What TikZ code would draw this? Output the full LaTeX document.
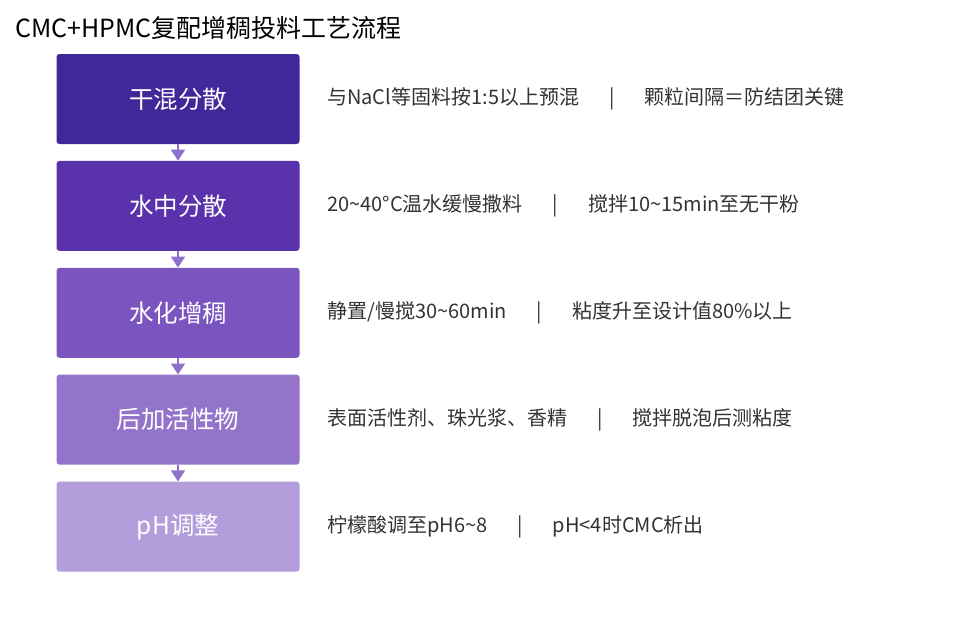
\documentclass[tikz,border=0pt]{standalone}
\usepackage{fontspec}
\setmainfont{Noto Sans CJK SC}
\usetikzlibrary{positioning,arrows.meta}
\definecolor{stepA}{HTML}{40289B}
\definecolor{stepB}{HTML}{5A32AC}
\definecolor{stepC}{HTML}{7B55BF}
\definecolor{stepD}{HTML}{9473CB}
\definecolor{stepE}{HTML}{B39DDB}
\definecolor{flowarrow}{HTML}{9070CC}
\definecolor{notegray}{HTML}{333333}
\begin{document}
\begin{tikzpicture}[
      x=1pt, y=-1pt,
      stepbox/.style={rectangle, rounded corners=3pt, minimum width=243pt, minimum height=90pt,
        text=white, font=\fontsize{24.5}{28}\selectfont, inner sep=0pt},
      note/.style={anchor=west, text=notegray, font=\fontsize{20}{24}\selectfont, inner sep=0pt},
      flow/.style={draw=flowarrow, line width=1.5pt, -{Triangle[length=11pt, width=14pt]}}
      ]
      \useasboundingbox (0,0) rectangle (960,643);
      \node[anchor=west, inner sep=0pt, font=\fontsize{25}{29}\selectfont] (title) at (15,28) {CMC+HPMC复配增稠投料工艺流程};
      % process steps
      \node[stepbox, fill=stepA] (dry) at (178,99) {干混分散};
      \node[stepbox, fill=stepB, below=16.5pt of dry] (water) {水中分散};
      \node[stepbox, fill=stepC, below=16.5pt of water] (hydro) {水化增稠};
      \node[stepbox, fill=stepD, below=16.5pt of hydro] (active) {后加活性物};
      \node[stepbox, fill=stepE, below=16.5pt of active] (ph) {pH调整};
      \draw[flow] (dry) -- (water);
      \draw[flow] (water) -- (hydro);
      \draw[flow] (hydro) -- (active);
      \draw[flow] (active) -- (ph);
      % notes
      \node[note] (drynote) at (327,99 |- dry) {与NaCl等固料按1:5以上预混\hspace{30pt}|\hspace{30pt}颗粒间隔＝防结团关键};
      \node[note] (waternote) at (327,0 |- water) {20\textasciitilde40°C温水缓慢撒料\hspace{30pt}|\hspace{30pt}搅拌10\textasciitilde15min至无干粉};
      \node[note] (hydronote) at (327,0 |- hydro) {静置/慢搅30\textasciitilde60min\hspace{30pt}|\hspace{30pt}粘度升至设计值80\%以上};
      \node[note] (activenote) at (327,0 |- active) {表面活性剂、珠光浆、香精\hspace{30pt}|\hspace{30pt}搅拌脱泡后测粘度};
      \node[note] (phnote) at (327,0 |- ph) {柠檬酸调至pH6\textasciitilde8\hspace{30pt}|\hspace{30pt}pH<4时CMC析出};
    \end{tikzpicture}
\end{document}
